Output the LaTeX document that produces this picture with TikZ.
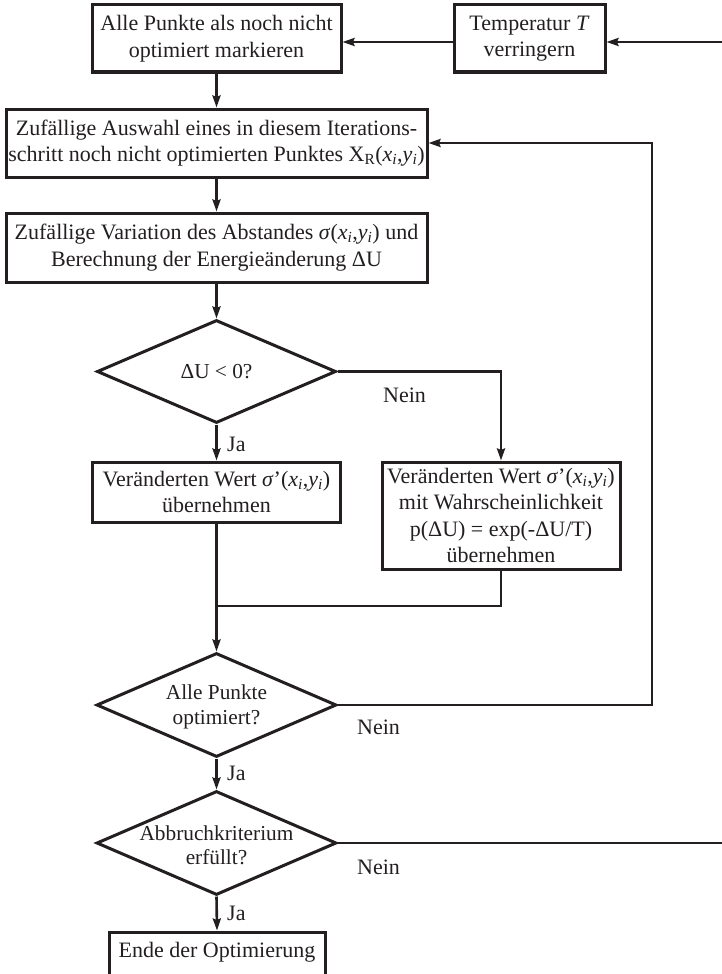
\documentclass[tikz,border=0pt]{standalone}
\usepackage{fontspec}
\setmainfont{Liberation Serif}
\usetikzlibrary{arrows.meta,shapes.geometric}
\definecolor{ink}{RGB}{35,31,32}
% coordinate pair (x_i, y_i) in italics
\newcommand{\pxy}{(\textit{x}\textsubscript{\textit{i}},\textit{y}\textsubscript{\textit{i}})}
\begin{document}
\begin{tikzpicture}[x=1pt,y=-1pt,
  every node/.style={font=\fontsize{22}{26.5}\selectfont, text=ink},
  procbox/.style={draw=ink, line width=3pt, rectangle, align=center, inner sep=0pt},
  decision/.style={draw=ink, line width=3pt, diamond, inner sep=0pt},
  question/.style={inner sep=0pt, align=center, font=\fontsize{21.3}{24.5}\selectfont},
  flow/.style={draw=ink, line width=2.6pt, -{Stealth[length=12pt,width=8pt,inset=1.5pt]}},
  link/.style={draw=ink, line width=2.6pt},
  tag/.style={inner sep=0pt}]
\useasboundingbox (0,0) rectangle (721,974);

% process boxes
\node[procbox, minimum width=249pt, minimum height=67pt] (b1) at (216.5,38.5)
  {Alle Punkte als noch nicht\\optimiert markieren};
\node[procbox, minimum width=151pt, minimum height=67pt] (b2) at (529.5,38.5)
  {Temperatur \textit{T}\\verringern};
\node[procbox, minimum width=421pt, minimum height=68pt] (b3) at (216.5,143)
  {Zufällige Auswahl eines in diesem Iterations-\\schritt noch nicht optimierten Punktes X\textsubscript{R}\pxy};
\node[procbox, minimum width=421pt, minimum height=69pt] (b4) at (216.5,247.5)
  {Zufällige Variation des Abstandes \textit{σ}\pxy{} und\\Berechnung der Energieänderung ΔU};
\node[procbox, minimum width=248pt, minimum height=60pt] (b5) at (216.5,492)
  {Veränderten Wert \textit{σ}'\pxy\\übernehmen};
\node[procbox, minimum width=238pt, minimum height=107pt] (b6) at (501,515.5)
  {Veränderten Wert \textit{σ}'\pxy\\mit Wahrscheinlichkeit\\p(ΔU) = exp(-ΔU/T)\\übernehmen};
% last box runs past the lower edge of the page
\node[procbox, minimum width=216pt, minimum height=60pt] (b7) at (217,962) {};
\node[tag] (b7t) at (217,952) {Ende der Optimierung};

% decisions
\node[decision, minimum width=239pt, minimum height=103pt] (d1) at (216.5,371.5) {};
\node[question] (d1t) at (d1) {ΔU < 0?};
\node[decision, minimum width=240pt, minimum height=104pt] (d2) at (216.5,705) {};
\node[question] (d2t) at ([yshift=-2pt]d2.center) {Alle Punkte\\optimiert?};
\node[decision, minimum width=240pt, minimum height=104pt] (d3) at (216.5,843) {};
\node[question] (d3t) at ([yshift=-2.5pt]d3.center) {Abbruchkriterium\\erfüllt?};

% free ends and bends
\coordinate (inTop) at (730,42);
\coordinate (outBot) at (730,843);
\coordinate (merge) at (216.5,606);
\coordinate (loopR) at (652,705);

% connectors
\draw[flow] (inTop) -- (inTop -| b2.east);
\draw[flow] (b2.west |- inTop) -- (b1.east |- inTop);
\draw[flow] (b1) -- (b3);
\draw[flow] (b3) -- (b4);
\draw[flow] (b4) -- (d1);
\draw[flow] (d1.south) -- (b5.north);
\draw[flow] (d1.east) -| (b6.north);
\draw[link] (b6.south) |- (merge);
\draw[flow] (b5.south) -- (d2.north);
\draw[flow] (d2.east) -- (loopR) |- (b3.east);
\draw[flow] (d2.south) -- (d3.north);
\draw[flow] (d3.south) -- (b7.north);
\draw[link] (d3.east) -- (outBot);

% branch labels
\node[tag, anchor=west] (ja1) at (227,444) {Ja};
\node[tag, anchor=west] (ja2) at (227,773) {Ja};
\node[tag, anchor=west] (ja3) at (227,913) {Ja};
\node[tag, anchor=west] (nein1) at (383,395) {Nein};
\node[tag, anchor=west] (nein2) at (357,727) {Nein};
\node[tag, anchor=west] (nein3) at (357,867) {Nein};
\end{tikzpicture}
\end{document}
